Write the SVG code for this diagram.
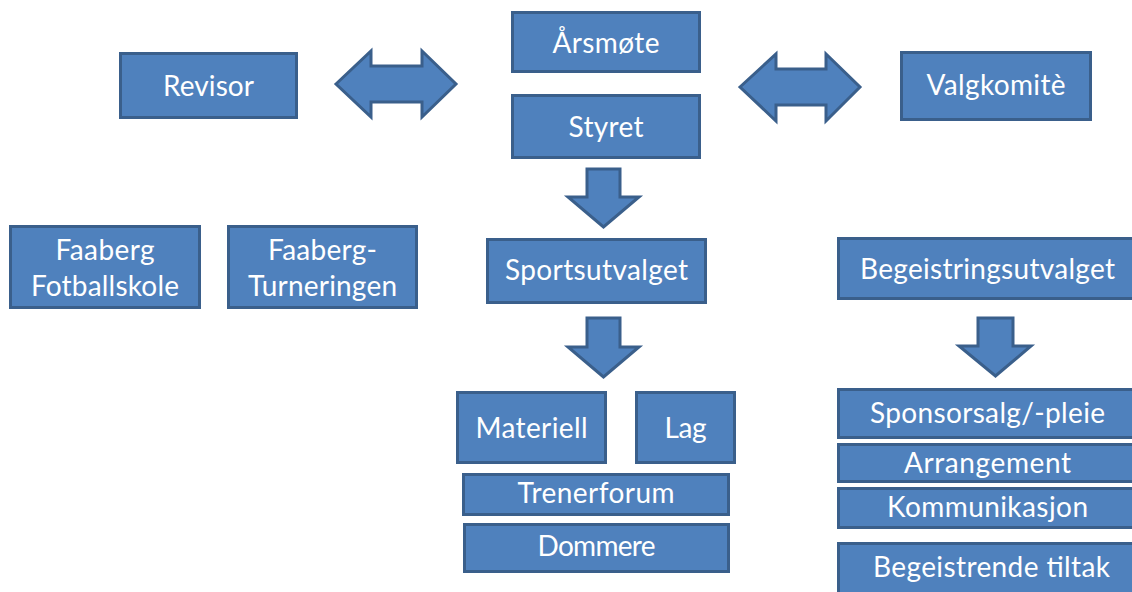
<svg xmlns="http://www.w3.org/2000/svg" width="1132" height="592" viewBox="0 0 1132 592">
<style>
.box{fill:#4F81BD;stroke:#3A5F8B;stroke-width:3;}
.arr{fill:#4F81BD;stroke:#3A5F8B;stroke-width:3;stroke-linejoin:miter;}
.t{font-family:Lato,"Open Sans","Liberation Sans",sans-serif;font-size:28px;fill:#FFFFFF;text-anchor:middle;}
</style>
<rect width="1132" height="592" fill="#FFFFFF"/>
<g id="connectors">
<path class="arr" d="M336,84 L371,51 L371,66 L422,66 L422,51 L456,84 L422,117 L422,102 L371,102 L371,117 Z"/>
<path class="arr" d="M740,87 L776,54 L776,69 L826,69 L826,54 L860,87 L826,121 L826,105 L776,105 L776,121 Z"/>
<path class="arr" d="M587,169 L620,169 L620,197 L639,197 L603.5,227 L568,197 L587,197 Z"/>
<path class="arr" d="M587,318 L620,318 L620,347 L639,347 L603.5,377 L568,347 L587,347 Z"/>
<path class="arr" d="M978,318 L1013,318 L1013,346 L1031,346 L995.5,376 L959,346 L978,346 Z"/>
</g>
<g id="revisor"><rect class="box" x="120.5" y="53.5" width="176" height="64"/><text class="t" x="208.5" y="96" textLength="91">Revisor</text></g>
<g id="arsmote"><rect class="box" x="512.5" y="12.5" width="187" height="59"/><text class="t" x="606" y="53" textLength="107">Årsmøte</text></g>
<g id="styret"><rect class="box" x="512.5" y="95.5" width="187" height="62"/><text class="t" x="606" y="137" textLength="75">Styret</text></g>
<g id="valgkomite"><rect class="box" x="901.5" y="52.5" width="189" height="67"/><text class="t" x="996" y="95" textLength="139">Valgkomitè</text></g>
<g id="fotballskole"><rect class="box" x="10.5" y="226.5" width="189" height="81"/><text class="t" x="105" y="260" textLength="99">Faaberg</text><text class="t" x="105" y="296" textLength="148">Fotballskole</text></g>
<g id="turneringen"><rect class="box" x="228.5" y="226.5" width="188" height="81"/><text class="t" x="322.5" y="260" textLength="109">Faaberg-</text><text class="t" x="322.5" y="296" textLength="149">Turneringen</text></g>
<g id="sportsutvalget"><rect class="box" x="487.5" y="239.5" width="218" height="63"/><text class="t" x="596.5" y="280" textLength="183">Sportsutvalget</text></g>
<g id="begeistringsutvalget"><rect class="box" x="838.5" y="238.5" width="300" height="60"/><text class="t" x="987.5" y="279" textLength="255">Begeistringsutvalget</text></g>
<g id="materiell"><rect class="box" x="457.5" y="392.5" width="148" height="70"/><text class="t" x="531.5" y="438" textLength="112">Materiell</text></g>
<g id="lag"><rect class="box" x="636.5" y="392.5" width="98" height="70"/><text class="t" x="685.5" y="438" textLength="42">Lag</text></g>
<g id="trenerforum"><rect class="box" x="463.5" y="474.5" width="265" height="40"/><text class="t" x="596" y="503" textLength="157">Trenerforum</text></g>
<g id="dommere"><rect class="box" x="464.5" y="524.5" width="264" height="47"/><text class="t" x="596.5" y="556" textLength="118">Dommere</text></g>
<g id="sponsorsalg"><rect class="box" x="838.5" y="389.5" width="300" height="48"/><text class="t" x="987.5" y="423" textLength="235">Sponsorsalg/-pleie</text></g>
<g id="arrangement"><rect class="box" x="838.5" y="444.5" width="300" height="37"/><text class="t" x="987.5" y="473" textLength="167">Arrangement</text></g>
<g id="kommunikasjon"><rect class="box" x="838.5" y="488.5" width="300" height="39"/><text class="t" x="987.5" y="517" textLength="201">Kommunikasjon</text></g>
<g id="begeistrende"><rect class="box" x="838.5" y="543.5" width="300" height="60"/><text class="t" x="991.5" y="577" textLength="237">Begeistrende tiltak</text></g>
</svg>
